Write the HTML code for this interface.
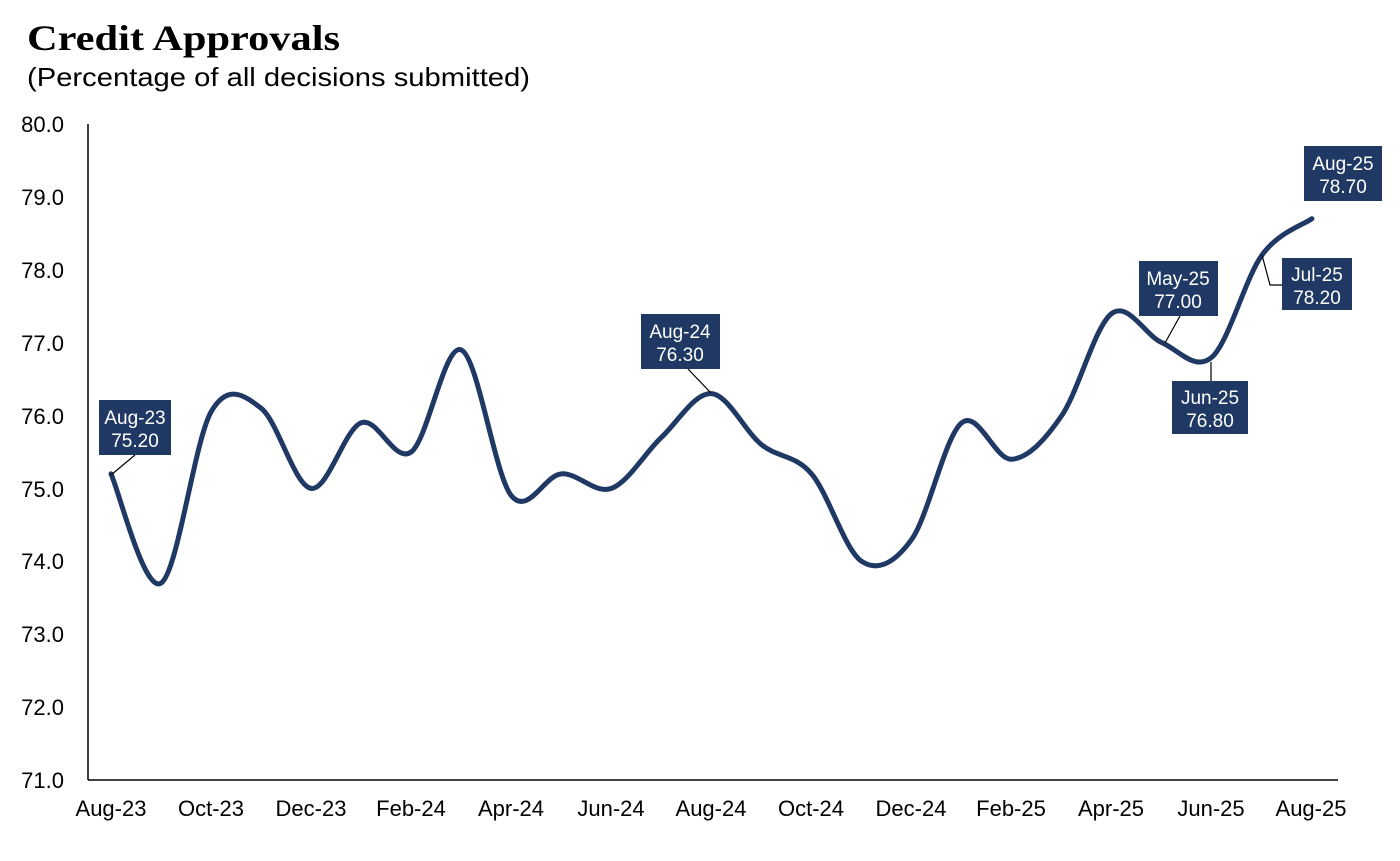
<!DOCTYPE html>
<html><head><style>
body{margin:0;background:#fff;width:1400px;height:856px;overflow:hidden}
svg text{font-family:"Liberation Sans",sans-serif}
</style></head><body>
<svg width="1400" height="856" viewBox="0 0 1400 856">
<text x="27" y="50" style="font-family:'Liberation Serif',serif;font-weight:bold;font-size:36px" fill="#000" textLength="313" lengthAdjust="spacingAndGlyphs">Credit Approvals</text>
<text x="27" y="86" font-size="26" fill="#000" textLength="503" lengthAdjust="spacingAndGlyphs">(Percentage of all decisions submitted)</text>
<line x1="88" y1="124" x2="88" y2="780" stroke="#000" stroke-width="1.5"/>
<line x1="88" y1="780" x2="1338" y2="780" stroke="#000" stroke-width="1.5"/>
<g font-size="22" text-anchor="end" fill="#000">
<text x="64" y="132">80.0</text><text x="64" y="205">79.0</text><text x="64" y="278">78.0</text>
<text x="64" y="351">77.0</text><text x="64" y="424">76.0</text><text x="64" y="497">75.0</text>
<text x="64" y="569">74.0</text><text x="64" y="642">73.0</text><text x="64" y="715">72.0</text><text x="64" y="788">71.0</text>
</g>
<g font-size="22" text-anchor="middle" fill="#000">
<text x="111" y="816">Aug-23</text><text x="211" y="816">Oct-23</text><text x="311" y="816">Dec-23</text>
<text x="411" y="816">Feb-24</text><text x="511" y="816">Apr-24</text><text x="611" y="816">Jun-24</text>
<text x="711" y="816">Aug-24</text><text x="811" y="816">Oct-24</text><text x="911" y="816">Dec-24</text>
<text x="1011" y="816">Feb-25</text><text x="1111" y="816">Apr-25</text><text x="1211" y="816">Jun-25</text><text x="1311" y="816">Aug-25</text>
</g>
<path id="ln" fill="none" stroke="#1f3864" stroke-width="5" stroke-linecap="round"/>
<g stroke="#000" stroke-width="1.2" fill="none">
<polyline points="111,475 135,455"/>
<polyline points="711,393 688,369"/>
<polyline points="1165,343 1180,316"/>
<polyline points="1211,362 1211,381"/>
<polyline points="1262,255 1270,285 1282,285"/>
<polyline points="1312,191 1343,172"/>
</g>
<g fill="#1f3864">
<rect x="99" y="400" width="72" height="55"/>
<rect x="641" y="314" width="79" height="55"/>
<rect x="1139" y="261" width="79" height="55"/>
<rect x="1172" y="381" width="76" height="53"/>
<rect x="1282" y="258" width="70" height="52"/>
<rect x="1304" y="146" width="78" height="55"/>
</g>
<g fill="#fff" font-size="19" text-anchor="middle">
<text x="135" y="424">Aug-23</text><text x="135" y="447">75.20</text>
<text x="680" y="338">Aug-24</text><text x="680" y="361">76.30</text>
<text x="1178" y="285">May-25</text><text x="1178" y="308">77.00</text>
<text x="1210" y="404">Jun-25</text><text x="1210" y="427">76.80</text>
<text x="1317" y="281">Jul-25</text><text x="1317" y="304">78.20</text>
<text x="1343" y="170">Aug-25</text><text x="1343" y="193">78.70</text>
</g>
</svg>
<script>
var v=[75.2,73.7,76.05,76.1,75.0,75.9,75.5,76.9,74.9,75.2,75.0,75.7,76.3,75.6,75.2,74.0,74.3,75.9,75.4,76.0,77.4,77.0,76.8,78.2,78.7];
var p=v.map(function(y,i){return [111+i*50.04,780-(y-71)*72.9];});
var d="M"+p[0][0]+","+p[0][1];
for(var i=0;i<p.length-1;i++){
var p0=p[i-1]||p[i],p1=p[i],p2=p[i+1],p3=p[i+2]||p2,t=6;
d+=" C"+(p1[0]+(p2[0]-p0[0])/t)+","+(p1[1]+(p2[1]-p0[1])/t)+" "+(p2[0]-(p3[0]-p1[0])/t)+","+(p2[1]-(p3[1]-p1[1])/t)+" "+p2[0]+","+p2[1];}
document.getElementById("ln").setAttribute("d",d);
</script>
</body></html>
